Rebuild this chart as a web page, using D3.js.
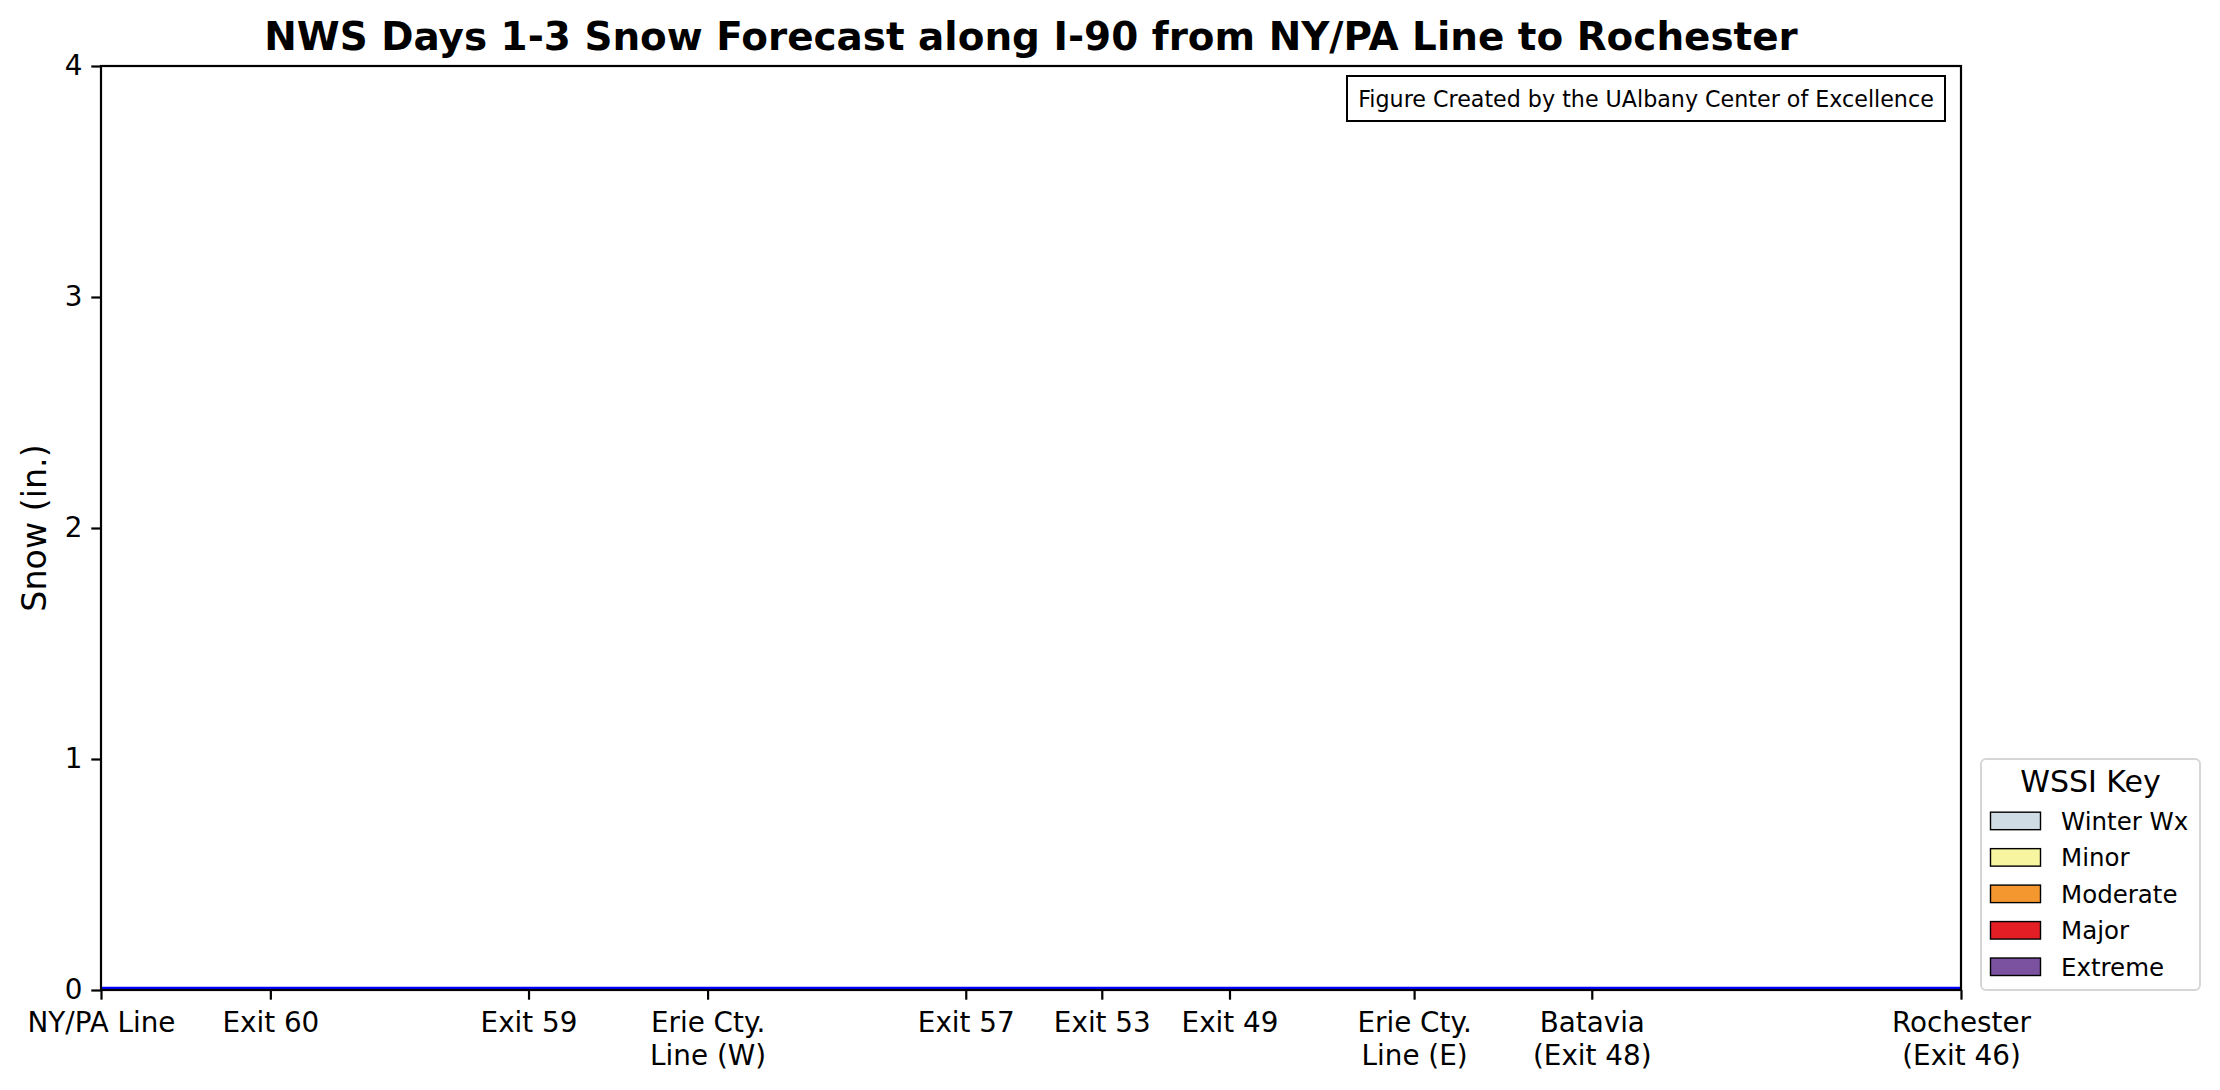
<!DOCTYPE html>
<html>
<head>
<meta charset="utf-8">
<script src="https://cdn.jsdelivr.net/npm/d3@7"></script>
<style>
  html, body { margin: 0; padding: 0; background: #ffffff; }
  svg { display: block; font-family: "DejaVu Sans", sans-serif; }
</style>
</head>
<body>
<svg id="chart" width="2220" height="1090"></svg>
<script>
// ---- data ----
const locationLabels = ["NY/PA Line", "Exit 60", "Exit 59", "Erie Cty.\nLine (W)", "Exit 57", "Exit 53", "Exit 49", "Erie Cty.\nLine (E)", "Batavia\n(Exit 48)", "Rochester\n(Exit 46)"];
const locationMiles = [0, 12.2, 30.8, 43.7, 62.3, 72.1, 81.3, 94.6, 107.4, 134];
const snowInches = [0, 0, 0, 0, 0, 0, 0, 0, 0, 0];
const yTicks = [0, 1, 2, 3, 4];
const wssiLabels = ["Winter Wx", "Minor", "Moderate", "Major", "Extreme"];
const wssiColors = ["#cfdce3", "#f8f5a1", "#f5972f", "#e31e25", "#7a52a0"];

const titleText = "NWS Days 1-3 Snow Forecast along I-90 from NY/PA Line to Rochester";
const creditText = "Figure Created by the UAlbany Center of Excellence";

// ---- layout ----
const svg = d3.select("#chart");
const plot = { left: 101, right: 1961, top: 66, bottom: 990 };

const x = d3.scaleLinear().domain([0, 134]).range([plot.left, plot.right]);
const y = d3.scaleLinear().domain([0, 4]).range([plot.bottom, plot.top]);

// series line
const line = d3.line().x((d, i) => x(locationMiles[i])).y(d => y(d) - 1.5);
svg.append("path")
  .datum(snowInches)
  .attr("d", line)
  .attr("fill", "none")
  .attr("stroke", "#0000ff")
  .attr("stroke-width", 3.5);

// frame (spines)
svg.append("rect")
  .attr("x", plot.left).attr("y", plot.top)
  .attr("width", plot.right - plot.left).attr("height", plot.bottom - plot.top)
  .attr("fill", "none").attr("stroke", "#000").attr("stroke-width", 2.2);

// y axis
const yAxis = d3.axisLeft(y).tickValues(yTicks).tickFormat(d3.format("d")).tickSize(9.7).tickPadding(9);
const gy = svg.append("g").attr("transform", `translate(${plot.left},0)`).call(yAxis);
gy.select(".domain").remove();
gy.selectAll(".tick line").attr("stroke", "#000").attr("stroke-width", 2.2);
gy.selectAll(".tick text").attr("font-size", 27.8).attr("fill", "#000")
  .attr("font-family", "DejaVu Sans, sans-serif");

// x axis
const xAxis = d3.axisBottom(x).tickValues(locationMiles).tickFormat("").tickSize(9.7);
const gx = svg.append("g").attr("transform", `translate(0,${plot.bottom})`).call(xAxis);
gx.select(".domain").remove();
gx.selectAll(".tick line").attr("stroke", "#000").attr("stroke-width", 2.2);
gx.selectAll(".tick").each(function(d, i) {
  const lines = locationLabels[i].split("\n");
  const t = d3.select(this).append("text")
    .attr("text-anchor", "middle")
    .attr("font-size", 27.8)
    .attr("fill", "#000")
    .attr("font-family", "DejaVu Sans, sans-serif");
  lines.forEach((ln, j) => {
    t.append("tspan").attr("x", 0).attr("y", 42 + j * 33).text(ln);
  });
});

// y label
svg.append("text")
  .attr("transform", `translate(34,${(plot.top + plot.bottom) / 2}) rotate(-90)`)
  .attr("text-anchor", "middle")
  .attr("dominant-baseline", "central")
  .attr("font-size", 33.3)
  .text("Snow (in.)");

// title
svg.append("text")
  .attr("x", (plot.left + plot.right) / 2)
  .attr("y", 50)
  .attr("text-anchor", "middle")
  .attr("font-size", 38.9)
  .attr("font-weight", "bold")
  .text(titleText);

// credit box
const credit = svg.append("g");
credit.append("rect")
  .attr("x", 1347).attr("y", 76).attr("width", 598).attr("height", 45)
  .attr("fill", "#fff").attr("stroke", "#000").attr("stroke-width", 2);
credit.append("text")
  .attr("x", 1646).attr("y", 106.5)
  .attr("text-anchor", "middle")
  .attr("font-size", 22.2)
  .text(creditText);

// legend
const lg = svg.append("g");
lg.append("rect")
  .attr("x", 1981).attr("y", 759).attr("width", 219).attr("height", 231)
  .attr("rx", 5).attr("ry", 5)
  .attr("fill", "#fff").attr("stroke", "#d6d6d6").attr("stroke-width", 2);
lg.append("text")
  .attr("x", 2090.5).attr("y", 792)
  .attr("text-anchor", "middle")
  .attr("font-size", 30)
  .text("WSSI Key");
const rowY = d3.scaleBand().domain(wssiLabels).range([802.7, 985]);
const rows = lg.selectAll("g.row").data(wssiLabels).enter().append("g").attr("class", "row");
rows.append("rect")
  .attr("x", 1990.5)
  .attr("y", d => rowY(d) + rowY.bandwidth() / 2 - 8.75)
  .attr("width", 50).attr("height", 17.5)
  .attr("fill", (d, i) => wssiColors[i])
  .attr("stroke", "#000").attr("stroke-width", 1.4);
rows.append("text")
  .attr("x", 2061)
  .attr("y", d => rowY(d) + rowY.bandwidth() / 2 + 8.8)
  .attr("font-size", 24.5)
  .text(d => d);
</script>
</body>
</html>
